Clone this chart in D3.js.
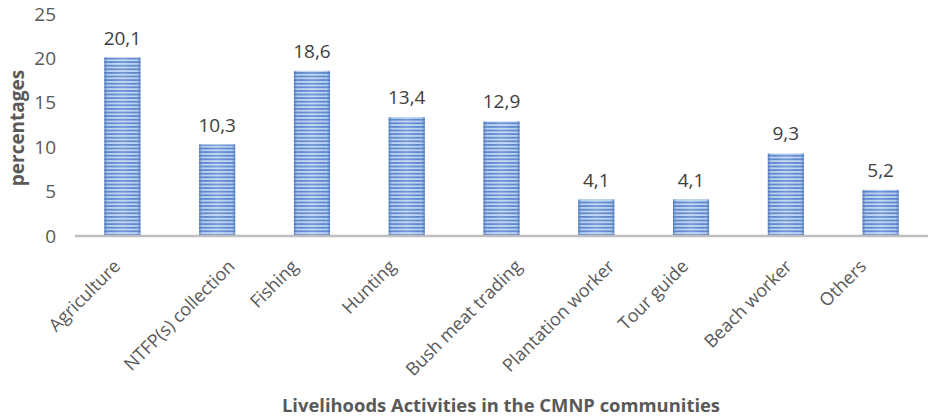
<!DOCTYPE html>
<html>
<head>
<meta charset="utf-8">
<script src="https://cdn.jsdelivr.net/npm/d3@7"></script>
<style>
  body { margin: 0; background: #fff; }
  text { font-family: "Open Sans", sans-serif; }
</style>
</head>
<body>
<div id="chart"></div>
<script>
// data
const categories = ["Agriculture", "NTFP(s) collection", "Fishing", "Hunting", "Bush meat trading",
  "Plantation worker", "Tour guide", "Beach worker", "Others"];
const values = [20.1, 10.3, 18.6, 13.4, 12.9, 4.1, 4.1, 9.3, 5.2];
const yTicks = [0, 5, 10, 15, 20, 25];

const width = 935;
const height = 420;
const margin = { top: 14, right: 7, bottom: 184, left: 75 };

const svg = d3.select("#chart")
  .append("svg")
  .attr("width", width)
  .attr("height", height);

// striped fill like the original
const defs = svg.append("defs");
const pat = defs.append("pattern")
  .attr("id", "stripes")
  .attr("patternUnits", "userSpaceOnUse")
  .attr("width", 10)
  .attr("height", 3.6);
pat.append("rect").attr("width", 10).attr("height", 3.6).attr("fill", "#b3cdf0");
pat.append("rect").attr("y", 0).attr("width", 10).attr("height", 1.8).attr("fill", "#4677c8");

const grad = defs.append("linearGradient").attr("id", "edge");
grad.append("stop").attr("offset", "0%").attr("stop-color", "#2f5fa8").attr("stop-opacity", 0.6);
grad.append("stop").attr("offset", "15%").attr("stop-color", "#ffffff").attr("stop-opacity", 0.1);
grad.append("stop").attr("offset", "50%").attr("stop-color", "#ffffff").attr("stop-opacity", 0.25);
grad.append("stop").attr("offset", "85%").attr("stop-color", "#ffffff").attr("stop-opacity", 0.1);
grad.append("stop").attr("offset", "100%").attr("stop-color", "#2f5fa8").attr("stop-opacity", 0.6);

const x = d3.scaleBand()
  .domain(categories)
  .range([margin.left, width - margin.right])
  .paddingInner(0.62)
  .paddingOuter(0.31);

const y = d3.scaleLinear()
  .domain([0, 25])
  .range([height - margin.bottom, margin.top]);

// y axis tick labels (no line)
svg.append("g")
  .selectAll("text")
  .data(yTicks)
  .enter()
  .append("text")
  .attr("x", 56)
  .attr("y", (d) => y(d))
  .attr("dy", "0.35em")
  .attr("text-anchor", "end")
  .attr("fill", "#595959")
  .style("font-size", "19px")
  .text((d) => d);

// bars
const bars = svg.append("g")
  .selectAll("g")
  .data(values)
  .enter()
  .append("g");

bars.append("rect")
  .attr("x", (d, i) => x(categories[i]))
  .attr("y", (d) => y(d))
  .attr("width", x.bandwidth())
  .attr("height", (d) => y(0) - y(d))
  .attr("fill", "url(#stripes)");

bars.append("rect")
  .attr("x", (d, i) => x(categories[i]))
  .attr("y", (d) => y(d))
  .attr("width", x.bandwidth())
  .attr("height", (d) => y(0) - y(d))
  .attr("fill", "url(#edge)");

// value labels
bars.append("text")
  .attr("x", (d, i) => x(categories[i]) + x.bandwidth() / 2)
  .attr("y", (d) => y(d) - 13)
  .attr("text-anchor", "middle")
  .attr("fill", "#404040")
  .style("font-size", "19px")
  .text((d) => String(d).replace(".", ","));

// baseline
svg.append("line")
  .attr("x1", margin.left)
  .attr("x2", width - margin.right)
  .attr("y1", y(0))
  .attr("y2", y(0))
  .attr("stroke", "#bfbfbf")
  .attr("stroke-width", 2.5);

// rotated category labels, placed Excel-style (text centred on the tick, then rotated)
const catLabels = svg.append("g")
  .selectAll("text")
  .data(categories)
  .enter()
  .append("text")
  .attr("text-anchor", "end")
  .attr("dy", "0.35em")
  .attr("fill", "#595959")
  .style("font-size", "18px")
  .text((d) => d);

catLabels.attr("transform", function (d) {
  const w = this.getComputedTextLength();
  const cx = x(d) + x.bandwidth() / 2 + 0.354 * w - 38;
  return "translate(" + cx + "," + (y(0) + 27) + ") rotate(-45)";
});

// axis titles
svg.append("text")
  .attr("transform", "translate(24,128) rotate(-90)")
  .attr("text-anchor", "middle")
  .attr("fill", "#595959")
  .style("font-size", "19px")
  .style("font-weight", "bold")
  .text("percentages");

svg.append("text")
  .attr("x", 501)
  .attr("y", 412)
  .attr("text-anchor", "middle")
  .attr("fill", "#595959")
  .style("font-size", "18.4px")
  .style("font-weight", "bold")
  .text("Livelihoods Activities in the CMNP communities");
</script>
</body>
</html>
